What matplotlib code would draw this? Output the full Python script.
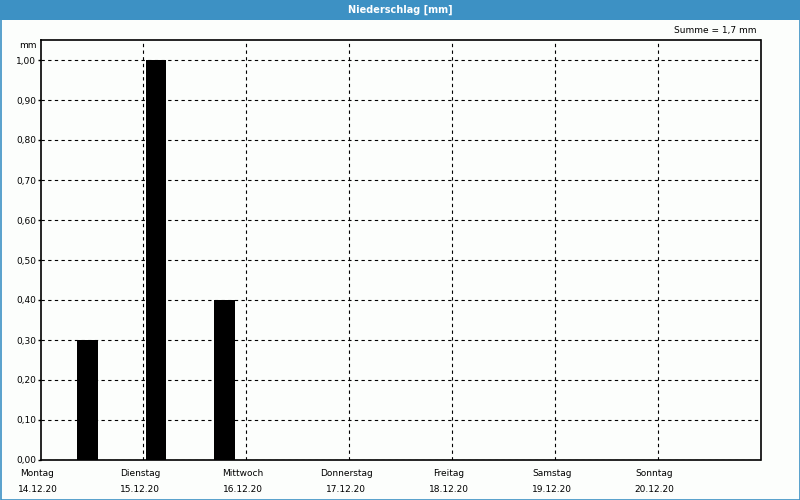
import matplotlib
matplotlib.use("Agg")
import matplotlib.pyplot as plt
from matplotlib.patches import Rectangle

days = ["Montag", "Dienstag", "Mittwoch", "Donnerstag", "Freitag", "Samstag", "Sonntag"]
dates = ["14.12.20", "15.12.20", "16.12.20", "17.12.20", "18.12.20", "19.12.20", "20.12.20"]
bar_hours = [11, 27, 43]          # hours after Monday 00:00
bar_values = [0.3, 1.0, 0.4]      # mm
yticks = [0.0, 0.1, 0.2, 0.3, 0.4, 0.5, 0.6, 0.7, 0.8, 0.9, 1.0]
title = "Niederschlag [mm]"
summe = "Summe = 1,7 mm"

plt.rcParams['font.family'] = ['DejaVu Sans']
bg = '#fcfefc'
fig = plt.figure(figsize=(8, 5), dpi=100, facecolor=bg)

# title bar
fig.patches.append(Rectangle((0, 1 - 20/500), 1, 20/500, transform=fig.transFigure,
                             facecolor='#3d91c4', edgecolor='none', zorder=0))
# outer border
fig.patches.append(Rectangle((0.5/800, 0.5/500), 799/800, 499/500, transform=fig.transFigure,
                             facecolor='none', edgecolor='#3d91c4', linewidth=1.2, zorder=5))
fig.text(0.5, 1 - 10/500, title, color='white', fontsize=7, fontweight='bold',
         ha='center', va='center')

ax = fig.add_axes([40.5/800, 1 - 460/500, 720/800, 420/500])
ax.set_facecolor(bg)
x = [h / 24 for h in bar_hours]
ax.bar(x, bar_values, width=0.2, color='black', align='center', zorder=3)

ax.set_xlim(0, 7)
ax.set_ylim(0, 1.05)
ax.set_yticks(yticks)
ax.set_yticklabels([f"{v:.2f}".replace('.', ',') for v in yticks], fontsize=6.5)
ax.set_xticks(range(1, 7))
ax.set_xticklabels([])
ax.tick_params(axis='x', length=0)
ax.tick_params(axis='y', length=2, width=1, pad=1)
ax.grid(True, color='black', linestyle=(0, (3, 3)), linewidth=0.8, zorder=1)
for s in ax.spines.values():
    s.set_linewidth(1.2)

for i, (d, dt) in enumerate(zip(days, dates)):
    xd = 40.5 + i * 720 / 7 - 3
    fig.text(xd / 800, 1 - 474/500, d, fontsize=6.5, ha='center', va='center')
    fig.text(xd / 800, 1 - 489/500, dt, fontsize=6.5, ha='center', va='center')

fig.text(757/800, 1 - 31/500, summe, fontsize=6.5, ha='right', va='center')
fig.text(37/800, 1 - 45/500, "mm", fontsize=6.5, ha='right', va='center')

fig.savefig("out.png", dpi=100, facecolor=bg)
